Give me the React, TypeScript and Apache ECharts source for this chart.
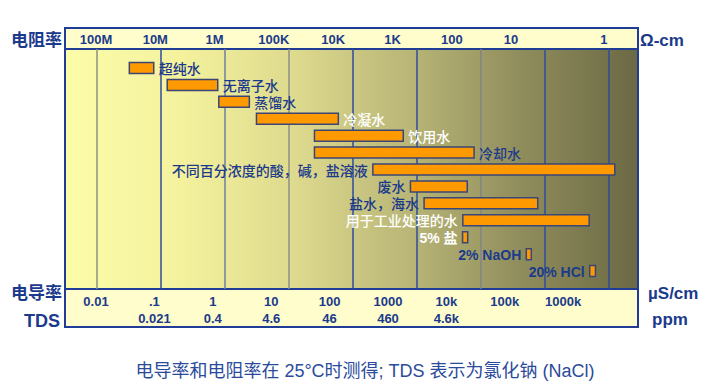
import React, { useEffect, useRef } from "react";
import * as echarts from "echarts";

// ---- data ----
const waterTypes = [
  "超纯水",
  "无离子水",
  "蒸馏水",
  "冷凝水",
  "饮用水",
  "冷却水",
  "不同百分浓度的酸，碱，盐溶液",
  "废水",
  "盐水，海水",
  "用于工业处理的水",
  "5% 盐",
  "2% NaOH",
  "20% HCl",
];
// conductivity range, µS/cm
const rangeLow = [0.032, 0.125, 0.8, 3.1, 25, 25, 204, 790, 1290, 5200, 5150, 51000, 500000];
const rangeHigh = [0.077, 0.77, 2.4, 59, 610, 7800, 1230000, 6100, 77000, 490000, 6200, 61000, 614000];
const decades = [0.01, 0.1, 1, 10, 100, 1000, 10000, 100000, 1000000];
const resistivityLabels = ["100M", "10M", "1M", "100K", "10K", "1K", "100", "10", "1"];
const conductivityLabels = ["0.01", ".1", "1", "10", "100", "1000", "10k", "100k", "1000k"];
const tdsLabels = ["", "0.021", "0.4", "4.6", "46", "460", "4.6k", "", ""];

// ---- label styling per row ----
const labelOnLeft = [false, false, false, false, false, false, true, true, true, true, true, true, true];
const labelWhite = [false, false, false, true, true, false, false, false, false, true, true, false, false];
const gridLineColors = ["#8C8F86", "#2E4C9E", "#6F7FA2", "#8C8F86", "#2E4C9E", "#2E4C9E", "#7F8586", "#2E4C9E", "#2E4C9E"];

const NAVY = "#1B3A8C";
const FONT = "'Liberation Sans', Arial, 'Noto Sans CJK SC', sans-serif";

export default function App() {
  const ref = useRef<HTMLDivElement>(null);
  useEffect(() => {
    if (!ref.current) return;
    const chart = echarts.init(ref.current, null, { renderer: "svg" });
    const bg = new echarts.graphic.LinearGradient(0, 0, 1, 0, [
      { offset: 0, color: "#FCFCA9" },
      { offset: 0.2, color: "#F4F29D" },
      { offset: 0.4, color: "#DEDA8E" },
      { offset: 0.6, color: "#B9B677" },
      { offset: 0.8, color: "#8F8C5C" },
      { offset: 1, color: "#6B6944" },
    ]);
    const labelStyle = {
      interval: 0,
      fontSize: 13,
      fontWeight: "bold" as const,
      color: NAVY,
      fontFamily: FONT,
    };
    const option: any = {
      animation: false,
      textStyle: { fontFamily: FONT },
      grid: [
        {
          left: 65,
          top: 49,
          width: 573,
          height: 240,
          show: true,
          backgroundColor: bg,
          borderColor: "#1F3C96",
          borderWidth: 2,
        },
        { left: 66.35, top: 29, width: 533.7, height: 1 },
        { left: 66.8, top: 288, width: 525.6, height: 1 },
      ],
      xAxis: [
        { gridIndex: 0, type: "log", min: Math.pow(10, -2.5), max: Math.pow(10, 6.453), show: false },
        {
          gridIndex: 1,
          type: "category",
          data: resistivityLabels,
          position: "bottom",
          axisLine: { show: false },
          axisTick: { show: false },
          axisLabel: {
            ...labelStyle,
            margin: 3,
            formatter: (v: string, i: number) =>
              i === resistivityLabels.length - 1 ? `{far|${v}}` : v,
            rich: {
              far: {
                padding: [0, 0, 0, 67],
                fontSize: 13,
                fontWeight: "bold",
                color: NAVY,
                fontFamily: FONT,
              },
            },
          },
        },
        {
          gridIndex: 2,
          type: "category",
          data: conductivityLabels,
          position: "bottom",
          axisLine: { show: false },
          axisTick: { show: false },
          axisLabel: { ...labelStyle, margin: 6 },
        },
        {
          gridIndex: 2,
          type: "category",
          data: tdsLabels,
          position: "bottom",
          offset: 17,
          axisLine: { show: false },
          axisTick: { show: false },
          axisLabel: { ...labelStyle, margin: 6 },
        },
      ],
      yAxis: [
        { gridIndex: 0, type: "value", inverse: true, min: -1.12, max: 13.06, show: false },
        { gridIndex: 1, type: "value", show: false },
        { gridIndex: 2, type: "value", show: false },
      ],
      series: [
        {
          type: "custom",
          xAxisIndex: 0,
          yAxisIndex: 0,
          z: 10,
          encode: { x: [1, 2], y: 0 },
          data: waterTypes.map((_, i) => [i, rangeLow[i], rangeHigh[i]]),
          renderItem: (params: any, api: any) => {
            const i = params.dataIndex;
            const row = api.value(0);
            const lo = api.coord([api.value(1), row]);
            const hi = api.coord([api.value(2), row]);
            const h = 11;
            const text = waterTypes[i];
            const left = labelOnLeft[i];
            const latin = /[A-Za-z0-9]/.test(text);
            return {
              type: "group",
              children: [
                {
                  type: "rect",
                  shape: { x: lo[0], y: lo[1] - h / 2, width: hi[0] - lo[0], height: h },
                  style: { fill: "#FF9900", stroke: "#3B4676", lineWidth: 1.5 },
                },
                {
                  type: "text",
                  style: {
                    text,
                    x: left ? lo[0] - 5 : hi[0] + 5,
                    y: lo[1] + 1,
                    align: left ? "right" : "left",
                    verticalAlign: "middle",
                    fill: labelWhite[i] ? "#FFFFFF" : NAVY,
                    fontSize: 14,
                    fontWeight: latin ? "bold" : 500,
                    fontFamily: FONT,
                  },
                },
              ],
            };
          },
          markLine: {
            silent: true,
            symbol: "none",
            label: { show: false },
            data: decades.map((d, k) => ({
              xAxis: d,
              lineStyle: { color: gridLineColors[k], width: 1.5, type: "solid" },
            })),
          },
        },
      ],
      graphic: [
        {
          type: "rect",
          z: -1,
          shape: { x: 65, y: 28, width: 573, height: 21 },
          style: { fill: "#FEFDCB", stroke: "#1F3C96", lineWidth: 2 },
        },
        {
          type: "rect",
          z: -1,
          shape: { x: 65, y: 289, width: 573, height: 38 },
          style: { fill: "#FEFDCB", stroke: "#1F3C96", lineWidth: 2 },
        },
        {
          type: "text",
          x: 11,
          y: 40,
          style: { text: "电阻率", fontSize: 17, fontWeight: "bold", fill: NAVY, fontFamily: FONT, verticalAlign: "middle" },
        },
        {
          type: "text",
          x: 11,
          y: 293,
          style: { text: "电导率", fontSize: 17, fontWeight: "bold", fill: NAVY, fontFamily: FONT, verticalAlign: "middle" },
        },
        {
          type: "text",
          x: 60,
          y: 321,
          style: { text: "TDS", fontSize: 18, fontWeight: "bold", fill: NAVY, fontFamily: FONT, align: "right", verticalAlign: "middle" },
        },
        {
          type: "text",
          x: 640,
          y: 40,
          style: { text: "Ω-cm", fontSize: 17, fontWeight: "bold", fill: NAVY, fontFamily: FONT, verticalAlign: "middle" },
        },
        {
          type: "text",
          x: 648,
          y: 293,
          style: { text: "µS/cm", fontSize: 17, fontWeight: "bold", fill: NAVY, fontFamily: FONT, verticalAlign: "middle" },
        },
        {
          type: "text",
          x: 652,
          y: 319,
          style: { text: "ppm", fontSize: 17, fontWeight: "bold", fill: NAVY, fontFamily: FONT, verticalAlign: "middle" },
        },
        {
          type: "text",
          x: 365,
          y: 371,
          style: {
            text: "电导率和电阻率在 25°C时测得; TDS 表示为氯化钠 (NaCl)",
            fontSize: 18,
            fill: "#2A4B9B",
            fontFamily: FONT,
            align: "center",
            verticalAlign: "middle",
          },
        },
      ],
    };
    chart.setOption(option);
    return () => chart.dispose();
  }, []);
  return (
    <div
      ref={ref}
      style={{ position: "fixed", left: 0, top: 0, width: 714, height: 384, background: "#FFFFFF" }}
    />
  );
}
